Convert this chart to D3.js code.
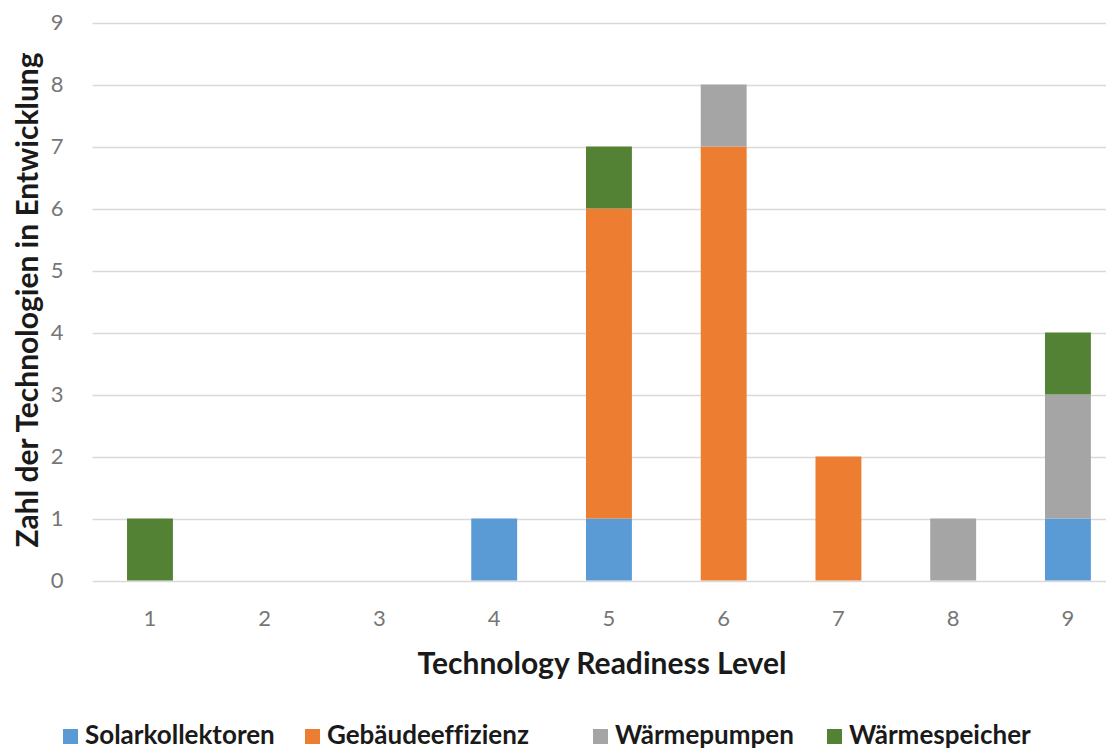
<!DOCTYPE html>
<html>
<head>
<meta charset="utf-8">
<script src="https://cdn.jsdelivr.net/npm/d3@7"></script>
<style>
  html, body { margin: 0; padding: 0; background: #fff; }
  svg { display: block; font-family: Lato, "Open Sans", sans-serif; }
  .legend-label { font-variant-ligatures: none; }
</style>
</head>
<body>
<svg id="chart" width="1106" height="751"></svg>
<script>
// Technology Readiness Level categories
const levels = ["1", "2", "3", "4", "5", "6", "7", "8", "9"];

// Number of technologies per level, one array per field
const solarkollektoren = [0, 0, 0, 1, 1, 0, 0, 0, 1];
const gebaeudeeffizienz = [0, 0, 0, 0, 5, 7, 2, 0, 0];
const waermepumpen     = [0, 0, 0, 0, 0, 1, 0, 1, 2];
const waermespeicher   = [1, 0, 0, 0, 1, 0, 0, 0, 1];

const seriesNames = ["Solarkollektoren", "Gebäudeeffizienz", "Wärmepumpen", "Wärmespeicher"];
const seriesColors = ["#5B9BD5", "#ED7D31", "#A5A5A5", "#548235"];
const yTicks = [0, 1, 2, 3, 4, 5, 6, 7, 8, 9];

const xTitle = "Technology Readiness Level";
const yTitle = "Zahl der Technologien in Entwicklung";

const svg = d3.select("#chart");

const plot = { left: 92.6, right: 1125.3, top: 22.5, bottom: 580.5 };

const rows = levels.map((lvl, i) => ({
  level: lvl,
  [seriesNames[0]]: solarkollektoren[i],
  [seriesNames[1]]: gebaeudeeffizienz[i],
  [seriesNames[2]]: waermepumpen[i],
  [seriesNames[3]]: waermespeicher[i]
}));

const stacked = d3.stack().keys(seriesNames)(rows);

const x = d3.scaleBand()
  .domain(levels)
  .range([plot.left, plot.right])
  .paddingInner(0.6)
  .paddingOuter(0.3);

const y = d3.scaleLinear()
  .domain([0, 9])
  .range([plot.bottom, plot.top]);

const color = d3.scaleOrdinal().domain(seriesNames).range(seriesColors);

// horizontal gridlines
svg.append("g")
  .selectAll("line")
  .data(yTicks)
  .join("line")
  .attr("x1", plot.left)
  .attr("x2", plot.right)
  .attr("y1", d => Math.round(y(d)) + 0.5)
  .attr("y2", d => Math.round(y(d)) + 0.5)
  .attr("stroke", "#D9D9D9")
  .attr("stroke-width", 1.3);

// y axis labels
const yAxis = svg.append("g")
  .attr("transform", `translate(${plot.left},0)`)
  .call(d3.axisLeft(y).tickValues(yTicks).tickSize(0).tickPadding(29).tickFormat(d3.format("d")));
yAxis.select(".domain").remove();
yAxis.selectAll("text")
  .attr("font-family", "Lato, sans-serif")
  .attr("font-size", 22)
  .attr("fill", "#767676");

// x axis labels
const xAxis = svg.append("g")
  .attr("transform", `translate(0,${plot.bottom})`)
  .call(d3.axisBottom(x).tickSize(0).tickPadding(30));
xAxis.select(".domain").remove();
xAxis.selectAll("text")
  .attr("font-family", "Lato, sans-serif")
  .attr("font-size", 22)
  .attr("fill", "#767676");

// stacked bars
svg.append("g")
  .selectAll("g")
  .data(stacked)
  .join("g")
  .attr("fill", d => color(d.key))
  .selectAll("rect")
  .data(d => d.filter(s => s[1] > s[0]))
  .join("rect")
  .attr("x", d => x(d.data.level))
  .attr("width", x.bandwidth())
  .attr("y", d => y(d[1]))
  .attr("height", d => y(d[0]) - y(d[1]));

// axis titles
svg.append("text")
  .attr("x", 602)
  .attr("y", 674)
  .attr("text-anchor", "middle")
  .attr("font-size", 30)
  .attr("font-weight", 700)
  .attr("fill", "#1a1a1a")
  .text(xTitle);

svg.append("text")
  .attr("transform", "translate(38,300) rotate(-90)")
  .attr("text-anchor", "middle")
  .attr("font-size", 30)
  .attr("font-weight", 700)
  .attr("fill", "#1a1a1a")
  .text(yTitle);

// legend
const legendX = [63, 305, 593, 827];
const legend = svg.append("g")
  .selectAll("g")
  .data(seriesNames)
  .join("g")
  .attr("transform", (d, i) => `translate(${legendX[i]},729)`);
legend.append("rect")
  .attr("width", 15)
  .attr("height", 15)
  .attr("fill", d => color(d));
legend.append("text")
  .attr("class", "legend-label")
  .attr("x", 22)
  .attr("y", 15)
  .attr("font-size", 26)
  .attr("font-weight", 700)
  .attr("fill", "#1a1a1a")
  .text(d => d);
</script>
</body>
</html>
